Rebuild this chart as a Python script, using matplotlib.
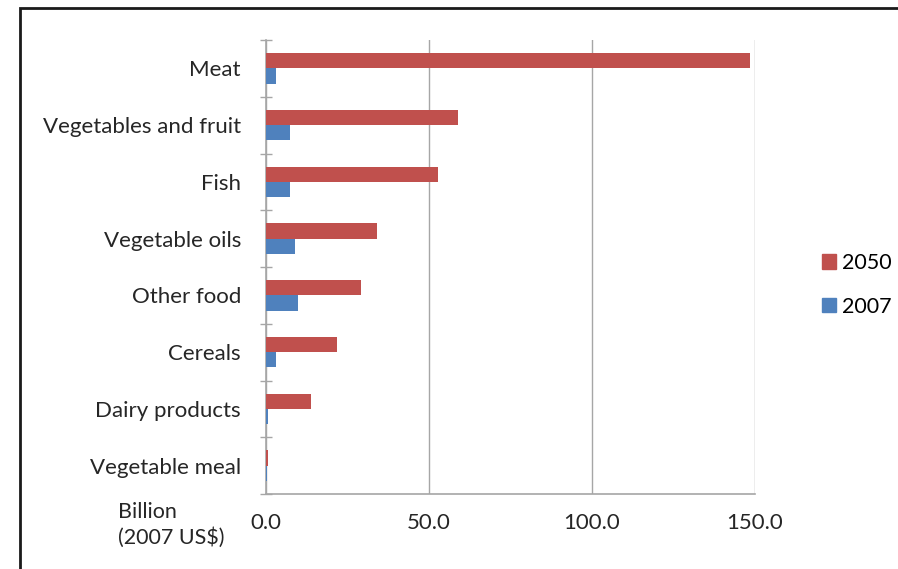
import matplotlib.pyplot as plt
import matplotlib.patches as mpatches
import numpy as np

plt.rcParams['font.family'] = ['Lato', 'DejaVu Sans']

categories = ["Meat", "Vegetables and fruit", "Fish", "Vegetable oils",
              "Other food", "Cereals", "Dairy products", "Vegetable meal"]
val_2050 = [148.5, 58.8, 52.7, 34.0, 29.0, 21.7, 13.8, 0.6]
val_2007 = [3.0, 7.3, 7.3, 8.9, 9.8, 3.0, 0.5, 0.3]
xticks = [0.0, 50.0, 100.0, 150.0]

red = '#C0504D'
blue = '#4F81BD'
grey = '#A6A6A6'
txt = '#262626'
fs = 16

fig = plt.figure(figsize=(8.98, 5.69), dpi=100)
ax = fig.add_axes([0.2962, 0.1318, 0.8408 - 0.2962, 0.9297 - 0.1318])

# outer frame of the chart area
fig.add_artist(mpatches.Rectangle((20 / 898, -0.1), 1.2, 1 - 8 / 569 + 0.1,
                                  transform=fig.transFigure, fill=False,
                                  ec='#1a1a1a', lw=2))

n = len(categories)
y = np.arange(n)
h = 0.27
ax.barh(y - h / 2, val_2050, height=h, color=red, label='2050', zorder=3)
ax.barh(y + h / 2, val_2007, height=h, color=blue, label='2007', zorder=3)

ax.set_ylim(n - 0.5, -0.5)
ax.set_xlim(0, 150)
ax.set_yticks(y)
ax.set_yticklabels(categories, fontsize=fs, color=txt)
ax.set_yticks(np.arange(n + 1) - 0.5, minor=True)
ax.tick_params(axis='y', which='major', length=0, pad=18)
ax.tick_params(axis='y', which='minor', length=9, direction='inout',
               color=grey, width=1)

ax.set_xticks(xticks)
ax.set_xticklabels(['%.1f' % v for v in xticks], fontsize=fs, color=txt)
ax.tick_params(axis='x', length=0, pad=14)
ax.grid(axis='x', color=grey, lw=1, zorder=0)

for s in ['top', 'right']:
    ax.spines[s].set_visible(False)
for s in ['left', 'bottom']:
    ax.spines[s].set_color(grey)
    ax.spines[s].set_linewidth(1.2)

fig.text(118 / 898, 1 - 525 / 569, 'Billion\n(2007 US$)', fontsize=fs - 0.5,
         color=txt, va='center', ha='left', linespacing=1.35)

handles = [mpatches.Patch(color=red, label='2050'),
           mpatches.Patch(color=blue, label='2007')]
fig.legend(handles=handles, loc='center left',
           bbox_to_anchor=(822 / 898, 1 - 285 / 569), frameon=False,
           fontsize=fs - 0.5, handlelength=0.65, handleheight=0.65,
           handletextpad=0.3, labelspacing=1.1, borderpad=0,
           borderaxespad=0)

fig.savefig('out.png', dpi=100)
